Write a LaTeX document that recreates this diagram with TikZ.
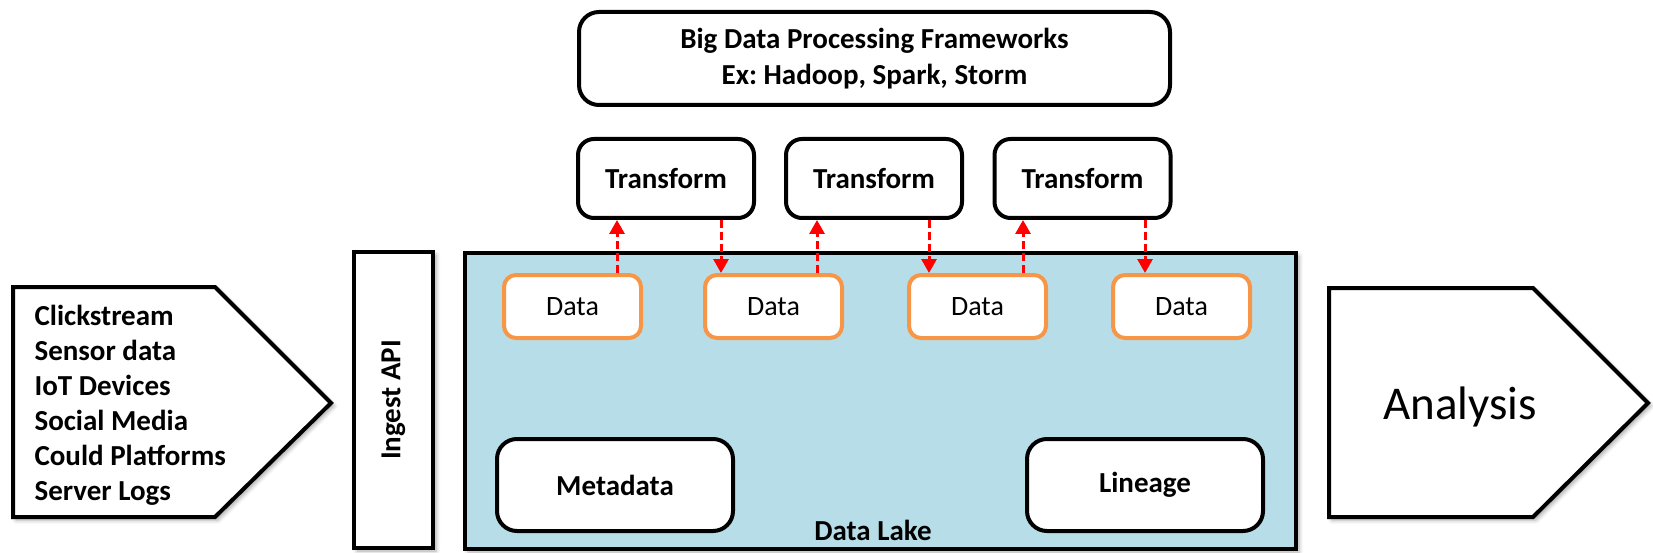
\documentclass[tikz,border=0pt]{standalone}
\usepackage{fontspec}
\setmainfont{Carlito}
\frenchspacing
\usetikzlibrary{arrows.meta,shadows.blur}
\definecolor{lake}{HTML}{B7DEE8}
\definecolor{dorange}{HTML}{F79646}
\begin{document}
\begin{tikzpicture}[x=1pt,y=-1pt,
  bbox/.style={draw=black, line width=4pt, rounded corners=16pt, fill=white, inner sep=0pt,
               font=\bfseries\fontsize{29}{36}\selectfont, align=center},
  dbox/.style={draw=dorange, line width=4pt, rounded corners=12pt, fill=white,
               minimum width=137pt, minimum height=63pt, inner sep=0pt,
               font=\fontsize{28}{34}\selectfont},
  flow/.style={red, line width=3pt, dash pattern=on 8pt off 4pt,
               -{Triangle[width=15pt,length=14pt]}},
  shad/.style={blur shadow={shadow xshift=3pt, shadow yshift=-3pt,
               shadow blur radius=4pt, shadow opacity=35}},
  lbl/.style={font=\bfseries\fontsize{29}{35}\selectfont}
]
\useasboundingbox (0,0) rectangle (1653,553);

% left source arrow
\draw[line width=4pt, fill=white, line join=miter, shad]
  (13,287) -- (215,287) -- (331,403) -- (215,517) -- (13,517) -- cycle;
\node[lbl, anchor=base west, align=left] (src) at (31,500)
  {Clickstream\\Sensor data\\IoT Devices\\Social Media\\Could Platforms\\Server Logs};

% ingest API
\node[draw=black, line width=3.5pt, fill=white, rotate=90, minimum width=296pt,
      minimum height=79pt, inner sep=0pt, lbl, shad] (ingest) at (393.5,400) {Ingest API};

% data lake
\node[draw=black, line width=4pt, fill=lake, minimum width=831pt, minimum height=296pt,
      inner sep=0pt, shad] (lake) at (880.5,401) {};
\node[lbl, anchor=base] (lakelbl) at (873,540) {Data Lake};

% top framework box
\node[bbox, rounded corners=20pt, minimum width=591pt, minimum height=93pt] (bd) at (874.5,58.5)
  {Big Data Processing Frameworks\\Ex: Hadoop, Spark, Storm};

% transforms
\node[bbox, minimum width=176pt, minimum height=79pt] (t1) at (666,178.5) {Transform};
\node[bbox, minimum width=176pt, minimum height=79pt] (t2) at (874,178.5) {Transform};
\node[bbox, minimum width=176pt, minimum height=79pt] (t3) at (1082.5,178.5) {Transform};

% data boxes
\node[dbox] (d1) at (572.5,306.5) {Data};
\node[dbox] (d2) at (773.5,306.5) {Data};
\node[dbox] (d3) at (977.5,306.5) {Data};
\node[dbox] (d4) at (1181.5,306.5) {Data};

% metadata / lineage
\node[bbox, rounded corners=20pt, minimum width=236pt, minimum height=92pt] (meta) at (615,485) {Metadata};
\node[bbox, rounded corners=20pt, minimum width=236pt, minimum height=92pt] (lin) at (1145,485) {Lineage};

% arrow x positions
\coordinate (u1) at (617,0);
\coordinate (v1) at (721,0);
\coordinate (u2) at (817,0);
\coordinate (v2) at (929,0);
\coordinate (u3) at (1023,0);
\coordinate (v3) at (1145,0);

\draw[flow] (d1.north -| u1) -- (t1.south -| u1);
\draw[flow] (t1.south -| v1) -- (d2.north -| v1);
\draw[flow] (d2.north -| u2) -- (t2.south -| u2);
\draw[flow] (t2.south -| v2) -- (d3.north -| v2);
\draw[flow] (d3.north -| u3) -- (t3.south -| u3);
\draw[flow] (t3.south -| v3) -- (d4.north -| v3);

% analysis arrow
\draw[line width=4pt, fill=white, line join=miter, shad]
  (1329,288) -- (1533,288) -- (1648,403) -- (1533,517) -- (1329,517) -- cycle;
\node[font=\fontsize{47}{56}\selectfont, anchor=base] (an) at (1460,419) {Analysis};
\end{tikzpicture}
\end{document}
